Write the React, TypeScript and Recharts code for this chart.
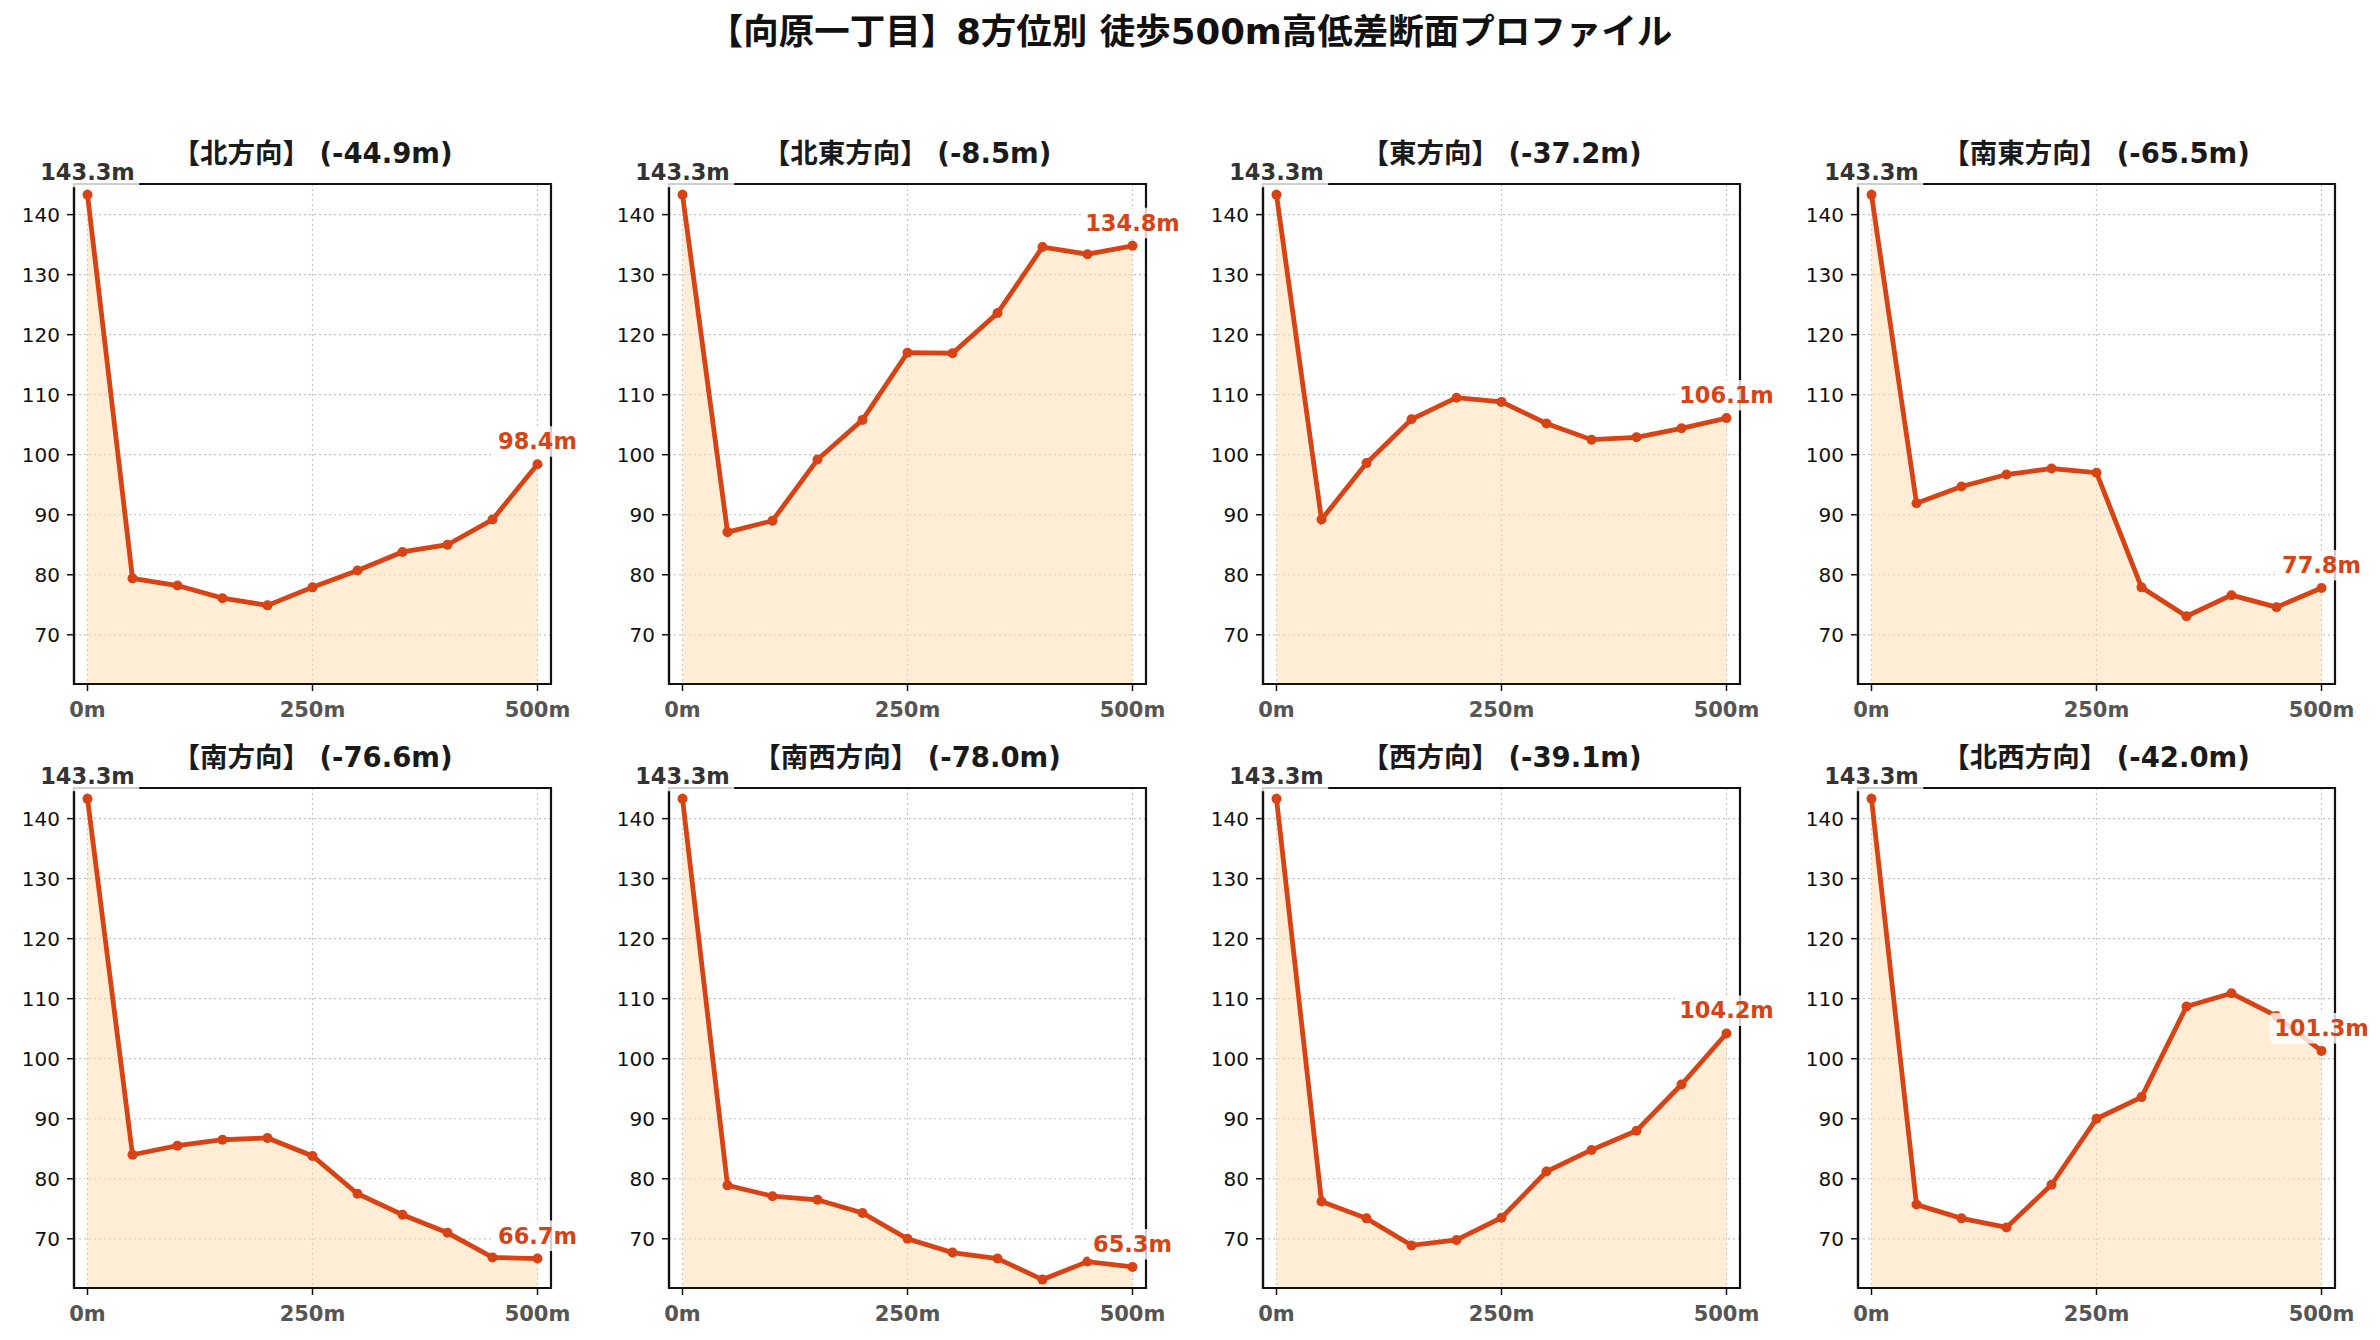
import React from 'react';
import {
  ComposedChart,
  Line,
  Area,
  XAxis,
  YAxis,
  CartesianGrid,
  LabelList,
  ReferenceArea,
} from 'recharts';

// ---------- data ----------
const distances = [0, 50, 100, 150, 200, 250, 300, 350, 400, 450, 500];

const directionNames = [
  '北方向',
  '北東方向',
  '東方向',
  '南東方向',
  '南方向',
  '南西方向',
  '西方向',
  '北西方向',
];

const northValues = [143.3, 79.4, 78.2, 76.1, 74.9, 77.9, 80.7, 83.8, 85.0, 89.2, 98.4];
const northEastValues = [143.3, 87.1, 89.0, 99.2, 105.8, 117.0, 116.9, 123.6, 134.6, 133.4, 134.8];
const eastValues = [143.3, 89.2, 98.6, 105.9, 109.5, 108.8, 105.2, 102.5, 102.9, 104.4, 106.1];
const southEastValues = [143.3, 91.9, 94.7, 96.7, 97.7, 97.0, 77.9, 73.1, 76.6, 74.6, 77.8];
const southValues = [143.3, 84.0, 85.5, 86.5, 86.8, 83.8, 77.5, 74.0, 71.0, 66.9, 66.7];
const southWestValues = [143.3, 78.9, 77.1, 76.5, 74.3, 70.0, 67.7, 66.7, 63.2, 66.2, 65.3];
const westValues = [143.3, 76.2, 73.4, 68.9, 69.8, 73.5, 81.2, 84.8, 88.0, 95.7, 104.2];
const northWestValues = [143.3, 75.7, 73.4, 71.9, 79.0, 90.0, 93.6, 108.7, 110.9, 107.1, 101.3];

const seriesValues = [
  northValues,
  northEastValues,
  eastValues,
  southEastValues,
  southValues,
  southWestValues,
  westValues,
  northWestValues,
];

const xTicks = [0, 250, 500];
const yTicks = [70, 80, 90, 100, 110, 120, 130, 140];
const xDomain = [-15, 515];
const yDomain = [61.8, 145.1];

const mainTitle = '【向原一丁目】8方位別 徒歩500m高低差断面プロファイル';

// ---------- style ----------
const FONT = '"DejaVu Sans", "Noto Sans CJK JP", sans-serif';
const LINE_COLOR = '#D84315';
const FILL_COLOR = '#FFE0B2';
const AXIS_COLOR = '#111111';

const PLOT_LEFT0 = 74;
const COL_STEP = 594.5;
const ROW_TOPS = [184, 788];
const PLOT_W = 477;
const PLOT_H = 500;
const Y_AXIS_W = 74;
const TOP_M = 60;
const RIGHT_M = 50;
const X_AXIS_H = 60;

const LABEL_FS = 22.5;
const CHAR_W: Record<string, number> = {
  '0': 0.696, '1': 0.696, '2': 0.696, '3': 0.696, '4': 0.696,
  '5': 0.696, '6': 0.696, '7': 0.696, '8': 0.696, '9': 0.696,
  '.': 0.38, 'm': 1.042, '-': 0.415,
};

function textWidth(text: string, fs: number) {
  let w = 0;
  for (const ch of text) w += CHAR_W[ch] ?? 0.7;
  return w * fs;
}

function makeLabel(values: number[]) {
  const lastIndex = values.length - 1;
  return (props: any) => {
    const vb = props.viewBox || {};
    const idx = typeof props.index === 'number' ? props.index : values.indexOf(Number(props.value));
    if (idx !== 0 && idx !== lastIndex) return null;
    const cx = typeof props.x === 'number' ? props.x : (vb.x ?? 0) + (vb.width ?? 0) / 2;
    const cy = typeof props.y === 'number' ? props.y : vb.y ?? 0;
    const text = `${Number(props.value).toFixed(1)}m`;
    const w = textWidth(text, LABEL_FS);
    const baseline = cy - 15;
    const color = idx === 0 ? '#333333' : LINE_COLOR;
    return (
      <g>
        <rect
          x={cx - w / 2 - 4.5}
          y={baseline - 23}
          width={w + 9}
          height={30.5}
          rx={4}
          fill="#ffffff"
          fillOpacity={0.8}
        />
        <text
          x={cx}
          y={baseline}
          textAnchor="middle"
          fontSize={LABEL_FS}
          fontWeight="bold"
          fill={color}
          fontFamily={FONT}
        >
          {text}
        </text>
      </g>
    );
  };
}

function Panel({ name, values, col, row }: { name: string; values: number[]; col: number; row: number }) {
  const data = distances.map((d, i) => ({ d, v: values[i] }));
  const diff = values[values.length - 1] - values[0];
  const diffText = `${diff >= 0 ? '+' : ''}${diff.toFixed(1)}`;
  const title = `【${name}】 (${diffText}m)`;
  const plotLeft = PLOT_LEFT0 + col * COL_STEP;
  const plotTop = ROW_TOPS[row];
  const width = Y_AXIS_W + PLOT_W + RIGHT_M;
  const height = TOP_M + PLOT_H + X_AXIS_H;

  return (
    <div style={{ position: 'absolute', left: plotLeft - Y_AXIS_W, top: plotTop - TOP_M, width, height }}>
      <ComposedChart
        width={width}
        height={height}
        data={data}
        margin={{ top: TOP_M, right: RIGHT_M, bottom: 0, left: 0 }}
      >
        <CartesianGrid stroke="#c2c2c2" strokeDasharray="2 3" strokeWidth={1.2} />
        <XAxis
          dataKey="d"
          type="number"
          domain={xDomain}
          ticks={xTicks}
          interval={0}
          tickFormatter={(v: number) => `${v}m`}
          tick={{ fontSize: 21, fontWeight: 'bold', fill: '#555555', fontFamily: FONT }}
          tickLine={{ stroke: AXIS_COLOR, strokeWidth: 1.5 }}
          tickSize={7}
          tickMargin={11}
          axisLine={{ stroke: AXIS_COLOR, strokeWidth: 2.2 }}
          height={X_AXIS_H}
        />
        <YAxis
          type="number"
          domain={yDomain}
          ticks={yTicks}
          interval={0}
          width={Y_AXIS_W}
          tick={{ fontSize: 20, fill: '#111111', fontFamily: FONT }}
          tickLine={{ stroke: AXIS_COLOR, strokeWidth: 1.5 }}
          tickSize={7}
          tickMargin={7}
          axisLine={{ stroke: AXIS_COLOR, strokeWidth: 2.2 }}
        />
        <Area
          type="linear"
          dataKey="v"
          stroke="none"
          fill={FILL_COLOR}
          fillOpacity={0.55}
          dot={false}
          activeDot={false}
          isAnimationActive={false}
        />
        <ReferenceArea
          x1={xDomain[0]}
          x2={xDomain[1]}
          y1={yDomain[0]}
          y2={yDomain[1]}
          fill="none"
          fillOpacity={0}
          stroke={AXIS_COLOR}
          strokeWidth={2.2}
          ifOverflow="visible"
        />
        <Line
          type="linear"
          dataKey="v"
          stroke={LINE_COLOR}
          strokeWidth={4.8}
          dot={{ r: 5, fill: LINE_COLOR, stroke: LINE_COLOR, strokeWidth: 0 }}
          activeDot={false}
          isAnimationActive={false}
        >
          <LabelList dataKey="v" content={makeLabel(values)} />
        </Line>
      </ComposedChart>
      <div
        style={{
          position: 'absolute',
          left: Y_AXIS_W - 20,
          width: PLOT_W + 40,
          top: TOP_M - 30,
          transform: 'translateY(-50%)',
          textAlign: 'center',
          fontSize: 27.5,
          fontWeight: 'bold',
          lineHeight: 1,
          color: '#1a1a1a',
          fontFamily: FONT,
          whiteSpace: 'nowrap',
        }}
      >
        {title}
      </div>
    </div>
  );
}

export default function App() {
  return (
    <div
      style={{
        position: 'absolute',
        left: 0,
        top: 0,
        width: 2380,
        height: 1340,
        background: '#ffffff',
        fontFamily: FONT,
        overflow: 'hidden',
      }}
    >
      <div
        style={{
          position: 'absolute',
          left: 0,
          width: 2380,
          top: 32,
          transform: 'translateY(-50%)',
          textAlign: 'center',
          fontSize: 35.5,
          fontWeight: 'bold',
          lineHeight: 1,
          color: '#111111',
          whiteSpace: 'nowrap',
        }}
      >
        {mainTitle}
      </div>
      {directionNames.map((name, i) => (
        <Panel key={name} name={name} values={seriesValues[i]} col={i % 4} row={Math.floor(i / 4)} />
      ))}
    </div>
  );
}
